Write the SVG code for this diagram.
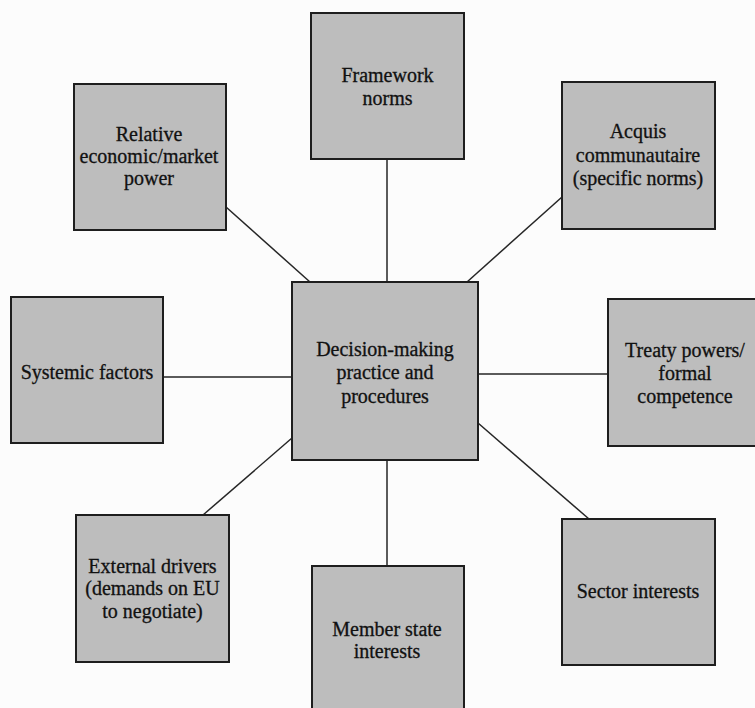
<svg xmlns="http://www.w3.org/2000/svg" width="755" height="708" viewBox="0 0 755 708">
<style>
.box{fill:#bdbdbd;stroke:#1e1e1e;stroke-width:2}
.lbl{font-family:"Liberation Serif","Times New Roman",serif;font-size:20px;fill:#111;stroke:#111;stroke-width:0.3;text-anchor:middle}
.conn line{stroke:#262626;stroke-width:1.5}
</style>
<rect width="755" height="708" fill="#fcfcfc"/>
<g class="conn" id="connectors">
<line x1="387" y1="159" x2="387" y2="282"/>
<line x1="226" y1="207" x2="310" y2="282"/>
<line x1="562" y1="197" x2="467" y2="282"/>
<line x1="163" y1="377" x2="292" y2="377"/>
<line x1="478" y1="374" x2="608" y2="374"/>
<line x1="478" y1="423" x2="589" y2="519"/>
<line x1="292" y1="438" x2="203" y2="515"/>
<line x1="387" y1="460" x2="387" y2="566"/>
</g>
<g id="framework">
<rect class="box" x="311" y="13" width="153" height="146"/>
<text class="lbl" x="387.5" y="82">Framework</text>
<text class="lbl" x="387.5" y="105">norms</text>
</g>
<g id="relative">
<rect class="box" x="74" y="84" width="152" height="146"/>
<text class="lbl" x="149" y="141">Relative</text>
<text class="lbl" x="149" y="163">economic/market</text>
<text class="lbl" x="149" y="185">power</text>
</g>
<g id="acquis">
<rect class="box" x="562" y="82" width="153" height="147"/>
<text class="lbl" x="638" y="138">Acquis</text>
<text class="lbl" x="638" y="162">communautaire</text>
<text class="lbl" x="638" y="185">(specific norms)</text>
</g>
<g id="central">
<rect class="box" x="292" y="282" width="186" height="178"/>
<text class="lbl" x="385" y="356">Decision-making</text>
<text class="lbl" x="385" y="379">practice and</text>
<text class="lbl" x="385" y="403">procedures</text>
</g>
<g id="systemic">
<rect class="box" x="11" y="297" width="152" height="146"/>
<text class="lbl" x="87" y="379">Systemic factors</text>
</g>
<g id="treaty">
<rect class="box" x="608" y="299" width="153" height="147"/>
<text class="lbl" x="685" y="357">Treaty powers/</text>
<text class="lbl" x="685" y="380">formal</text>
<text class="lbl" x="685" y="403">competence</text>
</g>
<g id="external">
<rect class="box" x="76" y="515" width="153" height="147"/>
<text class="lbl" x="152.5" y="573">External drivers</text>
<text class="lbl" x="152.5" y="595">(demands on EU</text>
<text class="lbl" x="152.5" y="618">to negotiate)</text>
</g>
<g id="member">
<rect class="box" x="312" y="566" width="152" height="147"/>
<text class="lbl" x="387" y="636">Member state</text>
<text class="lbl" x="387" y="658">interests</text>
</g>
<g id="sector">
<rect class="box" x="562" y="519" width="153" height="146"/>
<text class="lbl" x="638" y="598">Sector interests</text>
</g>
</svg>
